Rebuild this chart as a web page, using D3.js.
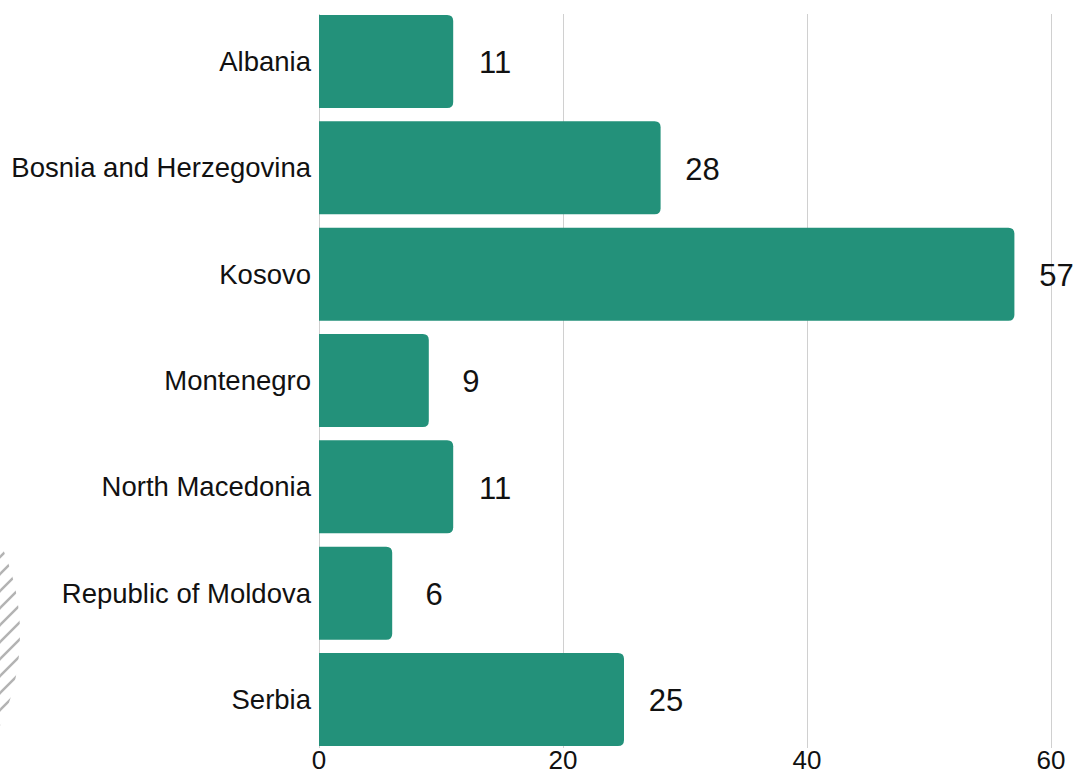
<!DOCTYPE html>
<html>
<head>
<meta charset="utf-8">
<script src="https://cdn.jsdelivr.net/npm/d3@7"></script>
<style>
  html, body { margin: 0; padding: 0; background: #fff; }
  svg { display: block; font-family: "Liberation Sans", Arial, sans-serif; }
</style>
</head>
<body>
<div id="chart"></div>
<script>
const countries = ["Albania", "Bosnia and Herzegovina", "Kosovo", "Montenegro", "North Macedonia", "Republic of Moldova", "Serbia"];
const values = [11, 28, 57, 9, 11, 6, 25];
const xTicks = [0, 20, 40, 60];

const W = 1074, H = 775;
const data = countries.map((c, i) => ({ country: c, value: values[i] }));

const svg = d3.select("#chart").append("svg")
  .attr("width", W)
  .attr("height", H);

const x = d3.scaleLinear().domain([0, 60]).range([319, 1051]);
const y = d3.scaleBand().domain(countries).range([15, 746]).paddingInner(0.125).paddingOuter(0);

// decorative hatch on the left edge
const defs = svg.append("defs");
defs.append("clipPath").attr("id", "hatch-clip")
  .append("circle").attr("cx", -200).attr("cy", 634).attr("r", 220);
const hatch = svg.append("g").attr("clip-path", "url(#hatch-clip)");
d3.range(540, 760, 17).forEach(y0 => {
  hatch.append("line")
    .attr("x1", -10).attr("y1", y0 + 10)
    .attr("x2", 40).attr("y2", y0 - 40)
    .attr("stroke", "#b3b3b3")
    .attr("stroke-width", 2.5);
});

// gridlines
svg.append("g")
  .selectAll("line")
  .data(xTicks)
  .join("line")
  .attr("x1", d => x(d) + 0.5)
  .attr("x2", d => x(d) + 0.5)
  .attr("y1", 14)
  .attr("y2", 748)
  .attr("stroke", "#d0d0d0")
  .attr("stroke-width", 1);

// bars: square on the left, rounded on the right
const r = 6;
svg.append("g")
  .selectAll("path")
  .data(data)
  .join("path")
  .attr("fill", "#23917a")
  .attr("d", d => {
    const x0 = x(0), x1 = x(d.value), y0 = y(d.country), h = y.bandwidth();
    return `M${x0},${y0}H${x1 - r}Q${x1},${y0} ${x1},${y0 + r}V${y0 + h - r}Q${x1},${y0 + h} ${x1 - r},${y0 + h}H${x0}Z`;
  });

// category labels
svg.append("g")
  .selectAll("text")
  .data(data)
  .join("text")
  .attr("x", 311)
  .attr("y", d => y(d.country) + y.bandwidth() / 2)
  .attr("dy", "0.35em")
  .attr("text-anchor", "end")
  .style("font-size", "27.5px")
  .style("fill", "#111")
  .text(d => d.country);

// value labels
svg.append("g")
  .selectAll("text")
  .data(data)
  .join("text")
  .attr("x", d => x(d.value) + 42)
  .attr("y", d => y(d.country) + y.bandwidth() / 2 + 1)
  .attr("dy", "0.35em")
  .attr("text-anchor", "middle")
  .style("font-size", "31px")
  .style("fill", "#111")
  .text(d => d.value);

// x axis tick labels
svg.append("g")
  .selectAll("text")
  .data(xTicks)
  .join("text")
  .attr("x", d => x(d))
  .attr("y", 769)
  .attr("text-anchor", "middle")
  .style("font-size", "26px")
  .style("fill", "#111")
  .text(d => d);
</script>
</body>
</html>
